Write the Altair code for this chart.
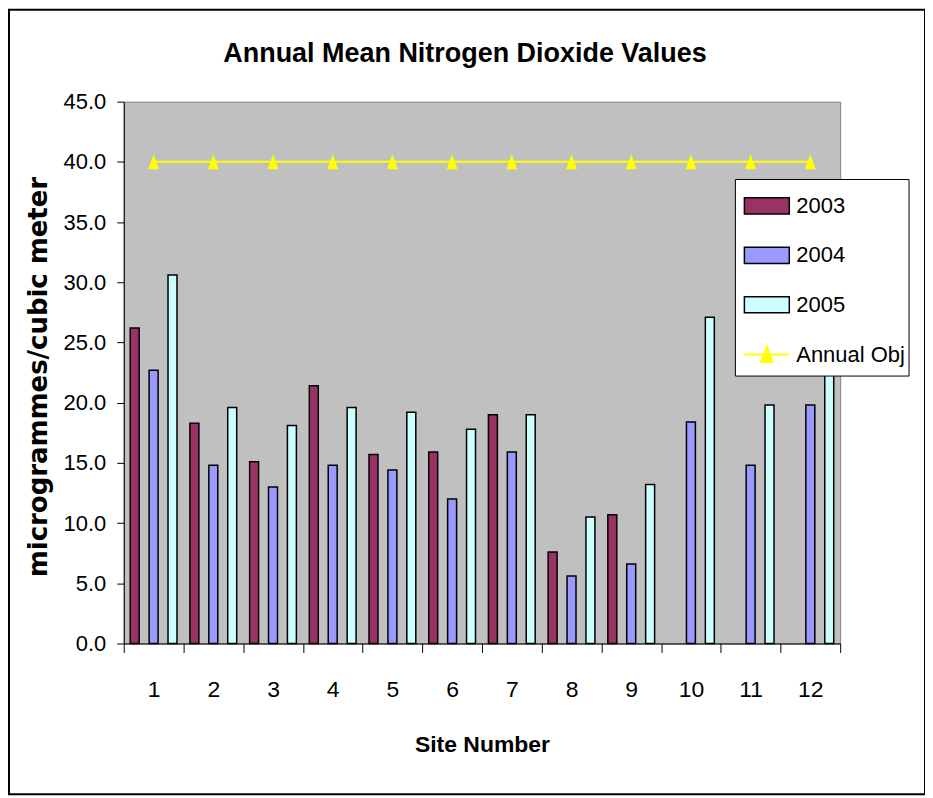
import altair as alt
import pandas as pd

# ---- data ----
sites = ["1", "2", "3", "4", "5", "6", "7", "8", "9", "10", "11", "12"]
years = ["2003", "2004", "2005"]
v2003 = [26.2, 18.3, 15.1, 21.4, 15.7, 15.9, 19.0, 7.6, 10.7, None, None, None]
v2004 = [22.7, 14.8, 13.0, 14.8, 14.4, 12.0, 15.9, 5.6, 6.6, 18.4, 14.8, 19.8]
v2005 = [30.6, 19.6, 18.1, 19.6, 19.2, 17.8, 19.0, 10.5, 13.2, 27.1, 19.8, 24.0]
annual_obj = [40.0, 40.0, 40.0, 40.0, 40.0, 40.0, 40.0, 40.0, 40.0, 40.0, 40.0, 40.0]
year_colors = ["#993366", "#9999FF", "#CCFFFF"]
obj_name = ["Annual Obj"]
obj_color = ["#FFFF00"]
y_ticks = [0, 5, 10, 15, 20, 25, 30, 35, 40, 45]

FONT = "Liberation Sans, Arial, sans-serif"

rows = []
for yr, vals in zip(years, [v2003, v2004, v2005]):
    for s, v in zip(sites, vals):
        if v is not None:
            rows.append({"Site": s, "Year": yr, "Value": v})
bar_df = pd.DataFrame(rows)
line_df = pd.DataFrame({"Site": sites, "Value": annual_obj, "Series": obj_name * len(sites)})

RECT = "M-1,-0.36H1V0.36H-1Z"
LEG_LINE = "M-1,0H1M0,-0.36L0.25,0.33L-0.25,0.33Z"
TRI = "M0,-0.95L0.7,0.95L-0.7,0.95Z"

x_enc = alt.X(
    "Site:N", sort=sites,
    scale=alt.Scale(paddingInner=0, paddingOuter=0),
    axis=alt.Axis(title="Site Number", tickBand="extent", labelAngle=0,
                  tickSize=9, labelPadding=44, labelBaseline="alphabetic",
                  labelFont=FONT, labelFontSize=23,
                  titleFont=FONT, titleFontSize=23, titleFontWeight="bold",
                  titleY=108, titleBaseline="alphabetic"),
)
y_enc = alt.Y(
    "Value:Q",
    scale=alt.Scale(domain=[0, 45], nice=False),
    axis=alt.Axis(values=y_ticks, format=".1f", title="microgrammes/cubic meter",
                  titleFont="DejaVu Sans", titleFontSize=26, titleFontWeight="bold",
                  titleAngle=270, titleX=-77, titleY=275.5, titleAlign="center",
                  titleBaseline="alphabetic", tickSize=7, labelPadding=11,
                  labelFont=FONT, labelFontSize=22),
)

one = pd.DataFrame({"f": [0]})
frame = alt.Chart(one).mark_rect(
    fillOpacity=0, stroke="black", strokeWidth=2
).encode(x=alt.value(-115), x2=alt.value(803), y=alt.value(-92), y2=alt.value(694))

legend_box = alt.Chart(one).mark_rect(
    fill="white", stroke="black", strokeWidth=1
).encode(x=alt.value(613), x2=alt.value(787), y=alt.value(78), y2=alt.value(275))

bars = alt.Chart(bar_df).mark_bar(stroke="black", strokeWidth=1.5).encode(
    x=x_enc,
    xOffset=alt.XOffset("Year:N", sort=years,
                        scale=alt.Scale(domain=years, paddingInner=0.526, paddingOuter=0.342)),
    y=y_enc,
    color=alt.Color(
        "Year:N",
        scale=alt.Scale(domain=years, range=year_colors),
        legend=alt.Legend(
            title=None, orient="none", legendX=621, legendY=81, padding=0, rowPadding=14.5,
            symbolSize=2025, symbolType=RECT, symbolStrokeColor="black",
            symbolStrokeWidth=1.5, symbolOpacity=1,
            labelFont=FONT, labelFontSize=22, labelColor="black", labelOffset=6,
        ),
    ),
)

line = alt.Chart(line_df).mark_line(
    strokeWidth=2,
    point=alt.OverlayMarkDef(shape=TRI, size=243, filled=True, fill="#FFFF00", color="#FFFF00"),
).encode(
    x=alt.X("Site:N", sort=sites), y=alt.Y("Value:Q"),
    color=alt.Color(
        "Series:N",
        scale=alt.Scale(domain=obj_name, range=obj_color),
        legend=alt.Legend(
            title=None, orient="none", legendX=621, legendY=230, padding=0,
            symbolSize=2025, symbolType=LEG_LINE, symbolStrokeColor="#FFFF00",
            symbolFillColor="#FFFF00", symbolStrokeWidth=2, symbolOpacity=1,
            labelFont=FONT, labelFontSize=22, labelColor="black", labelOffset=6,
        ),
    ),
)

chart = alt.layer(frame, bars, legend_box, line).resolve_scale(color="independent").properties(
    width=718, height=543,
    autosize=alt.AutoSizeParams(type="none"),
    padding={"left": 116, "top": 93, "right": 85, "bottom": 154},
    background="white",
    title=alt.Title("Annual Mean Nitrogen Dioxide Values", font=FONT, fontSize=27,
                    fontWeight="bold", color="black", anchor="middle", dx=-17,
                    offset=0, dy=80, baseline="alphabetic"),
).configure_view(fill="#C0C0C0", stroke="#808080", strokeWidth=1).configure_axis(
    grid=False, domainColor="black", tickColor="black", labelColor="black",
    titleColor="black", domainWidth=1, tickWidth=1
)

chart.save("out.html", embed_options={"renderer": "svg", "actions": False})
